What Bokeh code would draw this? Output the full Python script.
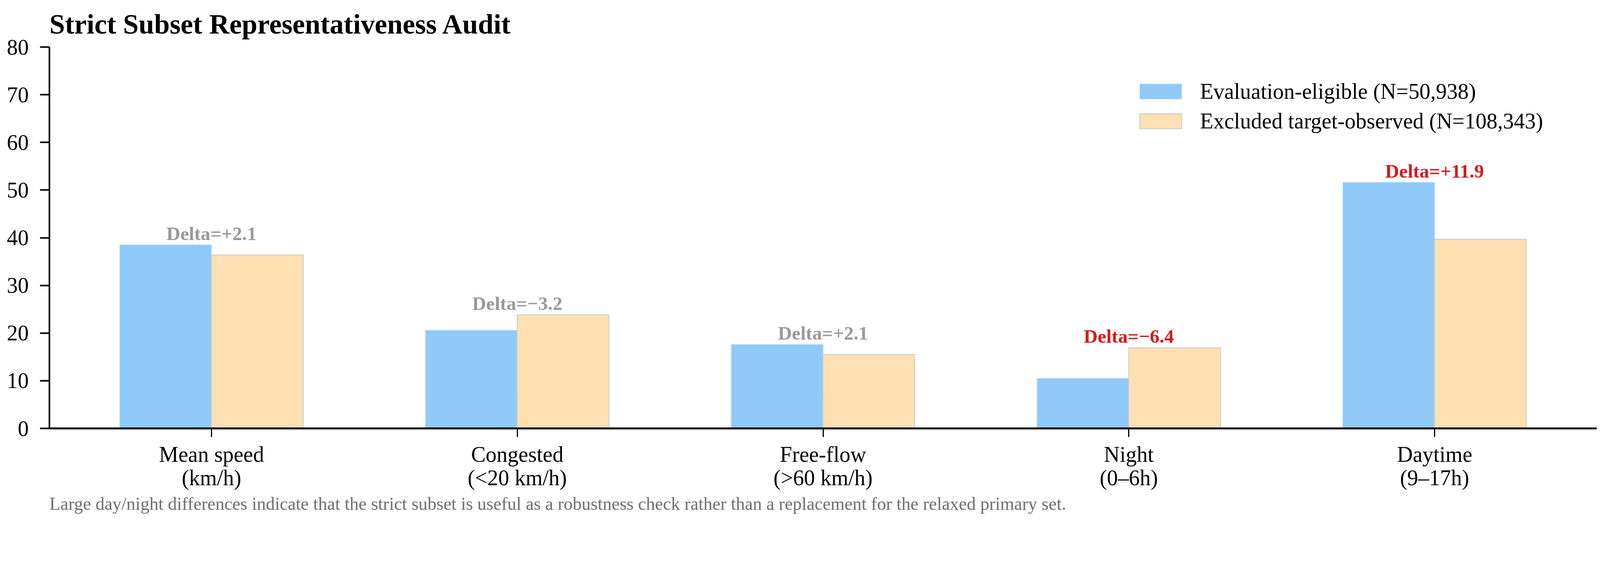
from bokeh.plotting import figure
from bokeh.models import (ColumnDataSource, FixedTicker, Legend, LegendItem, Title)
from bokeh.embed import file_html
from bokeh.resources import INLINE

# ---- data ----
categories = ["Mean speed\n(km/h)", "Congested\n(<20 km/h)", "Free-flow\n(>60 km/h)",
              "Night\n(0\u20136h)", "Daytime\n(9\u201317h)"]
eligible = [38.5, 20.6, 17.6, 10.5, 51.6]
excluded = [36.4, 23.8, 15.5, 16.9, 39.7]
series_names = ["Evaluation-eligible (N=50,938)", "Excluded target-observed (N=108,343)"]
y_ticks = [0, 10, 20, 30, 40, 50, 60, 70, 80]
title_text = "Strict Subset Representativeness Audit"
caption_text = ("Large day/night differences indicate that the strict subset is useful as a "
                "robustness check rather than a replacement for the relaxed primary set.")

FONT = "Liberation Serif"
BLUE = "#90CAF9"
ORANGE = "#FFE0B2"
BAR_W = 0.3

idx = list(range(len(categories)))
deltas = [round(a - b, 1) for a, b in zip(eligible, excluded)]
delta_txt = ["Delta=" + ("+" if d >= 0 else "\u2212") + f"{abs(d):.1f}" for d in deltas]
delta_col = ["#d7191c" if abs(d) >= 5 else "#999999" for d in deltas]
delta_y = [max(a, b) + 2.4 for a, b in zip(eligible, excluded)]

src = ColumnDataSource(dict(
    x_a=[i - BAR_W / 2 for i in idx], x_b=[i + BAR_W / 2 for i in idx],
    x=idx, a=eligible, b=excluded, txt=delta_txt, col=delta_col, ty=delta_y))

p = figure(width=4101, height=1394, x_range=(-0.53, 4.53), y_range=(0, 80),
           output_backend="svg", toolbar_location=None)
p.min_border_left = 126
p.min_border_right = 14
p.min_border_top = 118
p.min_border_bottom = 297
p.outline_line_color = None
p.xgrid.visible = False
p.ygrid.visible = False
p.background_fill_color = "white"
p.border_fill_color = "white"

r_a = p.vbar(x="x_a", top="a", width=BAR_W, source=src, fill_color=BLUE,
             line_color="#b3d9fa", line_width=1.5)
r_b = p.vbar(x="x_b", top="b", width=BAR_W, source=src, fill_color=ORANGE,
             line_color="#d0d0d0", line_width=2.5)

p.text(x="x", y="ty", text="txt", text_color="col", source=src,
       text_align="center", text_baseline="alphabetic",
       text_font=FONT, text_font_size="49.5px", text_font_style="bold")

# axes
yax = p.yaxis[0]
yax.ticker = FixedTicker(ticks=y_ticks)
yax.minor_tick_line_color = None
yax.major_tick_in = 0
yax.major_tick_out = 24
yax.major_tick_line_width = 4
yax.axis_line_width = 4
yax.major_label_standoff = 29
yax.major_label_text_font = FONT
yax.major_label_text_font_size = "56px"
yax.major_label_text_color = "black"

xax = p.xaxis[0]
xax.ticker = FixedTicker(ticks=idx)
xax.major_label_overrides = {i: c for i, c in zip(idx, categories)}
xax.minor_tick_line_color = None
xax.major_tick_in = 0
xax.major_tick_out = 22
xax.major_tick_line_width = 3
xax.axis_line_width = 5
xax.major_label_standoff = 13
xax.major_label_text_font = FONT
xax.major_label_text_font_size = "56px"
xax.major_label_text_line_height = 0.98
xax.major_label_text_color = "black"

# title
p.title.text = title_text
p.title.text_font = FONT
p.title.text_font_size = "71.5px"
p.title.text_font_style = "bold"
p.title.text_color = "black"
p.title.align = "left"
p.title.standoff = 39

# legend
legend = Legend(items=[LegendItem(label=series_names[0], renderers=[r_a]),
                       LegendItem(label=series_names[1], renderers=[r_b])],
                location=(2778, 754))
legend.glyph_width = 134
legend.glyph_height = 48
legend.label_height = 66
legend.label_standoff = 34
legend.spacing = 10
legend.padding = 0
legend.margin = 0
legend.border_line_color = None
legend.background_fill_alpha = 0
legend.label_text_font = FONT
legend.label_text_font_size = "56px"
legend.label_text_color = "black"
p.add_layout(legend, "center")

# caption below the axis
cap = Title(text=caption_text, align="left", text_font=FONT, text_font_size="46px",
            text_font_style="normal", text_color="#707070", standoff=8)
p.add_layout(cap, "below")

open("out.html", "w").write(file_html(p, INLINE))
